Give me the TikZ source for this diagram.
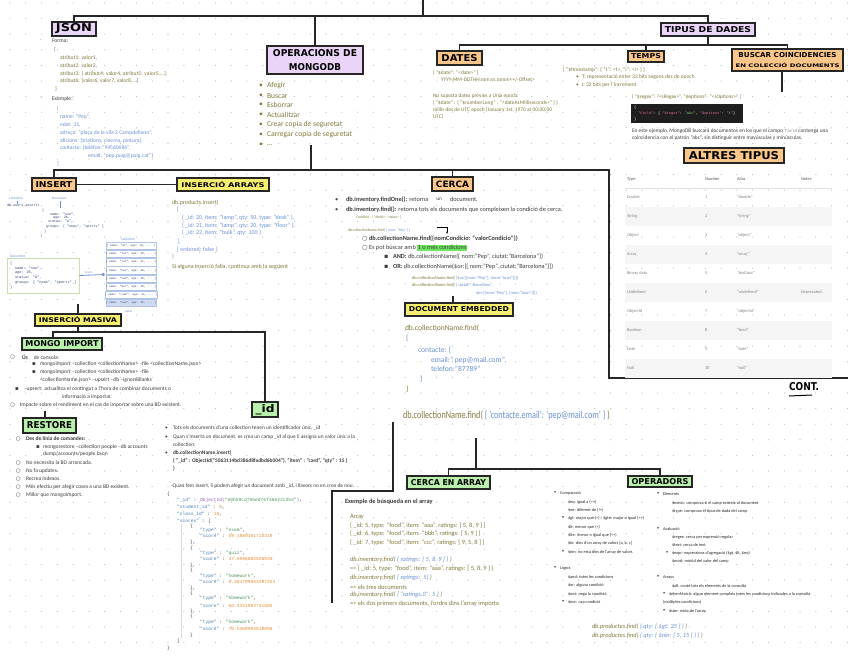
\documentclass[tikz,border=0pt]{standalone}
\usepackage{fontspec}
\usepackage{graphicx}
\setmainfont{Carlito}
\newfontfamily\hand{DejaVu Sans}
\newfontfamily\sym{DejaVu Sans}
\newfontfamily\mono{Liberation Mono}
\usetikzlibrary{arrows.meta}
\definecolor{olv}{RGB}{128,122,60}
\definecolor{blu}{RGB}{105,145,210}
\definecolor{dk}{RGB}{60,60,60}
\definecolor{gry}{RGB}{135,135,135}
\definecolor{nav}{RGB}{45,65,115}
\definecolor{purp}{RGB}{234,212,247}
\definecolor{orng}{RGB}{250,198,138}
\definecolor{yel}{RGB}{246,238,112}
\definecolor{grn}{RGB}{186,241,172}
\definecolor{dotc}{RGB}{190,190,190}
\definecolor{codebg}{RGB}{30,30,30}
\definecolor{pk}{RGB}{230,110,140}
\definecolor{gr2}{RGB}{150,200,110}
\definecolor{hl}{RGB}{110,230,95}
\definecolor{keyc}{RGB}{70,125,175}
\definecolor{strc}{RGB}{80,150,90}
\definecolor{numc}{RGB}{232,140,50}
\definecolor{objc}{RGB}{150,90,180}
\definecolor{docg}{RGB}{200,222,175}
\definecolor{colb}{RGB}{175,195,230}
\newcounter{tn}
\newcommand\fs[1]{\fontsize{#1pt}{#1pt}\selectfont}
\newcommand\tx[4][]{\stepcounter{tn}\node[tx,#1] (t\arabic{tn}) at (#2,#3) {#4};}
\newcommand\hd[3]{\resizebox{#1pt}{#2pt}{\hand\bfseries #3}}
\newcommand\cir{{\sym ○}}
\newcommand\sqb{{\sym ▪}}
\tikzset{
  tx/.style={anchor=west, inner sep=0pt, outer sep=0pt},
  fz/.style={font=\fontsize{#1pt}{#1pt}\selectfont},
  hb/.style={draw=black!85, line width=1.4pt, inner sep=0pt, align=center, font=\fontsize{1pt}{1pt}\selectfont},
  conn/.style={line width=1.3pt, draw=black!85},
}
\begin{document}
\begin{tikzpicture}[x=1pt,y=-1pt]
\useasboundingbox (0,0) rectangle (848,656);
\fill[white] (0,0) rectangle (848,656);
% dot grid
\foreach \i in {0,...,53} {\foreach \j in {0,...,41} {\fill[dotc] ({10+15.8*\i},{3+15.6*\j}) circle[radius=0.6pt];}}

% ---------------- heading boxes ----------------
\node[hb, fill=purp, minimum width=44, minimum height=14] (json) at (74,29) {\hd{36}{8}{JSON}};
\node[hb, fill=purp, minimum width=96, minimum height=28] (ops) at (315,60) {\hd{84}{7}{OPERACIONS DE}\\[5pt]\hd{52}{7}{MONGODB}};
\node[hb, fill=purp, minimum width=94, minimum height=13] (tipus) at (708,29.5) {\hd{86}{6}{TIPUS DE DADES}};
\node[hb, fill=orng, minimum width=45, minimum height=14] (dates) at (459.5,58) {\hd{36}{7}{DATES}};
\node[hb, fill=orng, minimum width=36, minimum height=11] (temps) at (646,56.5) {\hd{30}{5}{TEMPS}};
\node[hb, fill=orng, minimum width=111, minimum height=22] (buscar) at (787.5,60) {\hd{98}{5}{BUSCAR COINCIDENCIES}\\[5pt]\hd{104}{4.5}{EN COLECCIÓ DOCUMENTS}};
\node[hb, fill=orng, minimum width=100, minimum height=15] (altres) at (734,155.5) {\hd{90}{8}{ALTRES TIPUS}};
\node[hb, fill=orng, minimum width=44, minimum height=13] (insert) at (54,184.5) {\hd{37}{6}{INSERT}};
\node[hb, fill=yel, minimum width=92, minimum height=13] (arrays) at (223,184.5) {\hd{83}{6}{INSERCIÓ ARRAYS}};
\node[hb, fill=orng, minimum width=41, minimum height=14] (cerca) at (452.5,184) {\hd{33}{6.5}{CERCA}};
\node[hb, fill=yel, minimum width=86, minimum height=12] (masiva) at (78,320) {\hd{78}{6}{INSERCIÓ MASIVA}};
\node[hb, fill=grn, minimum width=80, minimum height=12] (mimport) at (62,344) {\hd{73}{6}{MONGO IMPORT}};
\node[hb, fill=grn, minimum width=53, minimum height=15] (restore) at (49.5,425.5) {\hd{45}{7}{RESTORE}};
\node[hb, fill=grn, minimum width=26, minimum height=15] (idb) at (265,409.5) {\hd{19}{8}{\_id}};
\node[hb, fill=yel, minimum width=108, minimum height=13] (embedded) at (459,309.5) {\hd{100}{5}{DOCUMENT EMBEDDED}};
\node[hb, fill=grn, minimum width=83, minimum height=13] (carray) at (448.5,482.5) {\hd{75}{6}{CERCA EN ARRAY}};
\node[hb, fill=grn, minimum width=64, minimum height=11] (opers) at (660,481.5) {\hd{57}{6}{OPERADORS}};

% ---------------- connectors ----------------
\coordinate (root) at (423,0);
\coordinate (r1) at (423,16);
\draw[conn] (root) -- (r1);
\draw[conn] (json.north) -- (json.north |- r1) -- (tipus.north |- r1) -- (tipus.north);
\draw[conn] (ops.north) -- (ops.north |- r1);
\coordinate (r2) at (708,45);
\draw[conn] (tipus.south) -- (r2);
\draw[conn] (dates.north) -- (dates.north |- r2) -- (buscar.north |- r2) -- (buscar.north);
\draw[conn] (temps.north) -- (temps.north |- r2);
\coordinate (bsend) at (782,92);
\draw[conn] (buscar.south -| bsend) -- (bsend);
\coordinate (opsend) at (311,145);
\coordinate (r3) at (311,170);
\coordinate (fr1) at (609,170);
\coordinate (fr2) at (609,378);
\coordinate (fr3) at (848,378);
\draw[conn] (opsend) -- (r3);
\draw[conn] (insert.north) -- (insert.north |- r3) -- (fr1) -- (fr2) -- (fr3);
\draw[conn] (cerca.north) -- (cerca.north |- r3);
\draw[conn] (insert.east) -- (arrays.west);
\coordinate (ms0) at (78,304);
\draw[conn] (ms0) -- (masiva.north);
\coordinate (r4) at (78,332);
\coordinate (mi) at (53,332);
\draw[conn] (masiva.south) -- (r4);
\draw[conn] (mi |- mimport.north) -- (mi) -- (idb.north |- mi) -- (idb.north);
\coordinate (rs0) at (45,411);
\draw[conn] (rs0) -- (rs0 |- restore.north);
\coordinate (b1) at (393,422);
\coordinate (b2) at (393,491);
\coordinate (b3) at (332,491);
\coordinate (b4) at (332,603);
\draw[conn] (b1) -- (b2) -- (b3) -- (b4);
\coordinate (em0) at (453,296);
\draw[conn] (em0) -- (em0 |- embedded.north);
\coordinate (e1) at (476,438);
\coordinate (r5) at (476,469);
\draw[conn] (e1) -- (r5);
\draw[conn] (carray.north) -- (carray.north |- r5) -- (opers.north |- r5) -- (opers.north);

% ---------------- JSON ----------------
\begin{scope}[tx/.append style={text=olv,fz=5.6}]
\tx[text=gry]{40}{41}{-}\tx[text=dk]{52}{41}{Forma:}
\tx{54}{50}{\{}
\tx{60}{58}{atribut1: valor1,}
\tx{60}{66}{atribut2: valor2,}
\tx{60}{74}{atribut3: \{ atribut4: valor4, atribut5: valor5....\},}
\tx{60}{81}{atribut6: [valor6, valor7, valor8,...]}
\tx{55}{89}{\}}
\tx[text=gry]{40}{99}{-}\tx[text=dk]{52}{99}{Exemple:}
\end{scope}
\begin{scope}[tx/.append style={text=blu,fz=5.6}]
\tx{57}{109}{\{}
\tx{60}{117}{name: "Pep",}
\tx{60}{125}{edat: 31,}
\tx{60}{133}{adreça: "plaça de la vila 2 Campdelleno",}
\tx{60}{141}{aficions: [triatlons, cinema, pintura],}
\tx{60}{148}{contacte: \{telèfon:"94560686",}
\tx{88}{156}{email: "pep.puig@puig.cat"\}}
\tx{57}{164}{\}}
\end{scope}

% ---------------- OPERACIONS list ----------------
\begin{scope}[tx/.append style={text=olv,fz=7.6}]
\tx{259}{86}{•}\tx{267}{86}{Afegir}
\tx{259}{96}{•}\tx{267}{96}{Buscar}
\tx{259}{105}{•}\tx{267}{105}{Esborrar}
\tx{259}{115}{•}\tx{267}{115}{Actualitzar}
\tx{259}{125}{•}\tx{267}{125}{Crear copia de seguretat}
\tx{259}{135}{•}\tx{267}{135}{Carregar copia de seguretat}
\tx{259}{145}{•}\tx{267}{145}{...}
\end{scope}

% ---------------- DATES ----------------
\begin{scope}[tx/.append style={text=olv,fz=5.4}]
\tx{433}{73}{\{ "\$date": "<date>" \}}
\tx{441}{80}{YYYY-MM-DDTHH:mm:ss.mmm<+/-Offset>}
\tx{433}{96}{No suporta dates prèvies a Unix epoch:}
\tx{433}{103}{\{ "\$date" : \{ "\$numberLong" : "<dateAsMilliseconds>" \} \}}
\tx{433}{110}{millis des de UTC epoch (January 1st, 1970 at 00:00:00}
\tx{433}{117}{UTC)}
\end{scope}

% ---------------- TEMPS ----------------
\begin{scope}[tx/.append style={text=olv,fz=5.5}]
\tx{563}{70}{\{ "\$timestamp": \{ "t": <t>, "i": <i> \} \}}
\tx{576}{77}{•}\tx{582}{77}{T: representació enter 32 bits segons des de epoch}
\tx{576}{85}{•}\tx{582}{85}{I: 32 bits per l'increment}
\end{scope}

% ---------------- BUSCAR ----------------
\tx[text=olv,fz=5.3]{632}{97}{\{ "\$regex": "<sRegex>", "\$options": "<sOptions>" \}}
\node[fill=codebg, minimum width=112, minimum height=19, inner sep=0pt] (code) at (687,113.5) {};
\tx[text=white,fz=3.6]{634}{108}{\mono\{}
\tx[fz=3.6]{638}{114}{\mono\textcolor{pk}{"field"}\textcolor{white}{: \{ }\textcolor{pk}{"\$regex"}\textcolor{white}{: }\textcolor{gr2}{"abc"}\textcolor{white}{, }\textcolor{pk}{"\$options"}\textcolor{white}{: }\textcolor{gr2}{"i"}\textcolor{white}{ \}}}
\tx[text=white,fz=3.6]{634}{120}{\mono\}}
\tx[text=dk,fz=5.4]{632}{131}{En este ejemplo, MongoDB buscará documentos en los que el campo {\mono\fs{4.3}\textcolor{gry}{field}} contenga una}
\tx[text=dk,fz=5.4]{632}{138}{coincidencia con el patrón "abc", sin distinguir entre mayúsculas y minúsculas.}

% ---------------- ALTRES TIPUS table ----------------
\foreach \yy in {216,254,292,330,368} {\fill[black!4] (625,\yy-9.5) rectangle (832,\yy+9.5);}
\draw[black!12, line width=0.4pt] (625,188) -- (832,188);
\begin{scope}[tx/.append style={text=gry,fz=4.4}]
\tx[text=black!65]{627}{179}{Type}\tx[text=black!65]{705}{179}{Number}\tx[text=black!65]{737}{179}{Alias}\tx[text=black!65]{801}{179}{Notes}
\tx{627}{197}{Double}\tx{705}{197}{1}\tx{737}{197}{"double"}
\tx{627}{216}{String}\tx{705}{216}{2}\tx{737}{216}{"string"}
\tx{627}{235}{Object}\tx{705}{235}{3}\tx{737}{235}{"object"}
\tx{627}{254}{Array}\tx{705}{254}{4}\tx{737}{254}{"array"}
\tx{627}{273}{Binary data}\tx{705}{273}{5}\tx{737}{273}{"binData"}
\tx{627}{292}{Undefined}\tx{705}{292}{6}\tx{737}{292}{"undefined"}\tx{801}{292}{Deprecated.}
\tx{627}{311}{ObjectId}\tx{705}{311}{7}\tx{737}{311}{"objectId"}
\tx{627}{330}{Boolean}\tx{705}{330}{8}\tx{737}{330}{"bool"}
\tx{627}{349}{Date}\tx{705}{349}{9}\tx{737}{349}{"date"}
\tx{627}{368}{Null}\tx{705}{368}{10}\tx{737}{368}{"null"}
\end{scope}
\node[inner sep=0pt] (cont) at (804,387) {\hd{30}{8}{CONT.}};
\coordinate (cu1) at (789,396);
\coordinate (cu2) at (812,395);
\draw[line width=1pt] (cu1) -- (cu2);

% ---------------- INSERT diagram ----------------
\begin{scope}[tx/.append style={text=nav,fz=3.4}]
\tx[text=blu]{9}{198}{Collection}
\tx[text=blu]{52}{198}{Document}
\tx{7}{206}{\mono db.users.insert(}
\tx{42}{211}{\mono\{}
\tx{50}{215}{\mono name: "sue",}
\tx{53}{218}{\mono age: 26,}
\tx{48}{222}{\mono status: "A",}
\tx{46}{227}{\mono groups: [ "news", "sports" ]}
\tx{44}{232}{\mono\}}
\tx{40}{236}{\mono)}
\end{scope}
\coordinate (ca1) at (17,201); \coordinate (ca2) at (17,204);
\coordinate (cb1) at (60,201); \coordinate (cb2) at (60,208);
\draw[blu, line width=0.4pt] (ca1) -- (ca2) (cb1) -- (cb2);
\node[draw=docg, line width=0.8pt, minimum width=72, minimum height=35, inner sep=0pt] (docbox) at (43,275.5) {};
\begin{scope}[tx/.append style={text=nav,fz=3.6}]
\tx[text=blu]{10}{256}{Document}
\tx{10}{264}{\mono\{}
\tx{15}{269}{\mono name: "sue",}
\tx{15}{273}{\mono age: 26,}
\tx{15}{278}{\mono status: "A",}
\tx{15}{283}{\mono groups: [ "news", "sports" ]}
\tx{10}{288}{\mono\}}
\end{scope}
\node[minimum width=52, minimum height=65, inner sep=0pt] (coll) at (131,274.5) {};
\foreach \k/\nm/\ag in {0/al/18,1/lee/28,2/jan/21,3/kai/38,4/sam/18,5/mel/38,6/ryan/31,7/sue/26} {
  \ifnum\k=7 \def\fc{colb!60}\else\def\fc{white}\fi
  \node[draw=colb, fill=\fc, line width=0.5pt, minimum width=50, minimum height=7.2, inner sep=0pt, font=\mono\fontsize{2.8pt}{2.8pt}\selectfont, text=nav] (row\k) at (131,{246+8.1*\k}) {\{ name: "\nm", age: \ag, ... \}};
}
\tx[text=blu,fz=3.4]{121}{239}{Collection}
\tx[text=blu,fz=3.4]{125}{312}{users}
\draw[blu, line width=0.8pt, -{Circle[length=3pt]}] (docbox.east) -- (coll.west);
\tx[text=blu,fz=3]{85}{272}{insert}

% ---------------- INSERCIÓ ARRAYS ----------------
\begin{scope}[tx/.append style={text=blu,fz=6}]
\tx[text=olv]{172}{203}{db.products.insert(}
\tx{177}{210}{[}
\tx{182}{218}{\{ \_id: 20, item: "lamp", qty: 50, type: "desk" \},}
\tx{182}{226}{\{ \_id: 21, item: "lamp", qty: 20, type: "floor" \},}
\tx{182}{233}{\{ \_id: 22, item: "bulk", qty: 100 \}}
\tx{177}{242}{],}
\tx{177}{250}{\{ ordered: false \}}
\tx{172}{257}{)}
\tx[text=olv]{172}{267}{Si alguna inserció falla, continua amb la següent}
\end{scope}

% ---------------- CERCA ----------------
\begin{scope}[tx/.append style={text=dk,fz=6.3}]
\tx{335}{200}{•}\tx{346}{200}{\textbf{db.inventory.findOne():} retorna\hspace{8pt}{\hand\fs{4.5}\raisebox{1.5pt}{un}}\hspace{8pt}document.}
\tx{335}{210}{•}\tx{346}{210}{\textbf{db.inventory.find():} retorna tots els documents que compleixen la condició de cerca.}
\tx[text=olv,fz=3.8]{356}{217}{Condició : \{ <field>: <value> \}}
\tx[text=olv,fz=3.8]{348}{230}{db.collectionName.find( \textcolor{blu}{\{ nom: "Pep" \}} )}
\tx{362}{239}{\cir}\tx{369}{239}{\textbf{db.collectionName.find(\{nomCondicio: "valorCondicio"\})}}
\tx{362}{248}{\cir}\tx{369}{248}{Es pot búscar amb {\setlength\fboxsep{0.6pt}\colorbox{hl}{1 o més condicions}}}
\tx{384}{257}{\sqb}\tx{393}{257}{\textbf{AND:} db.collectionName(\{ nom:"Pep", ciutat:"Barcelona"\})}
\tx{384}{267}{\sqb}\tx{393}{267}{\textbf{OR:} db.collectionName(\$or:[\{ nom:"Pep", ciutat:"Barcelona"\}])}
\tx[text=olv,fz=4.4]{412}{278}{db.collectionName.find( \textcolor{blu}{\{\$or:[\{nom:"Pep"\}, \{nom:"Juan"\}]\})}}
\tx[text=olv,fz=4.4]{412}{285}{db.collectionName.find( \textcolor{blu}{\{ ciutat:" Barcelona",}}
\tx[text=blu,fz=4.4]{476}{293}{\$or:[\{nom:"Pep"\}, \{nom:"Juan"\}]\})}
\end{scope}
\coordinate (hk1) at (437,227);
\coordinate (hk2) at (447,227);
\coordinate (hk3) at (447,234);
\draw[line width=0.8pt, -{Stealth[length=2.5pt]}] (hk1) -- (hk2) -- (hk3);

% ---------------- DOCUMENT EMBEDDED ----------------
\begin{scope}[tx/.append style={text=blu,fz=7.6}]
\tx[text=olv]{405}{328}{db.collectionName.find(}
\tx{406}{338}{\{}
\tx{418}{350}{contacte: \{}
\tx{431}{360}{email:" pep@mail.com",}
\tx{431}{369}{telefon:"87789"}
\tx{420}{379}{\}}
\tx[text=olv]{406}{389}{\}}
\end{scope}
\tx[text=olv,fz=10.5]{403}{415}{\scalebox{0.78}[1]{db.collectionName.find( \textcolor{blu}{\{ 'contacte.email': 'pep@mail.com' \}} )}}

% ---------------- MONGO IMPORT ----------------
\begin{scope}[tx/.append style={text=dk,fz=5.5}]
\tx{10}{357}{\cir}\tx{22}{357}{\textbf{Ús}\hspace{6pt}de consola:}
\tx{32}{364}{\sqb}\tx{40}{364}{mongoimport --collection <collectionName> --file <collectionName.json>}
\tx{32}{372}{\sqb}\tx{40}{372}{mongoimport --collection <collectionName> --file}
\tx{40}{380}{<collectionName.json> --upsert --db --ignoreBlanks}
\tx{15}{389}{\sqb}\tx{24}{389}{--upsert: actualitza el contingut a l'hora de combinar documents o}
\tx{62}{397}{informació a importar.}
\tx{10}{405}{\cir}\tx{20}{405}{Impacte sobre el rendiment en el cas de importar sobre una BD existent.}
\end{scope}

% ---------------- RESTORE ----------------
\begin{scope}[tx/.append style={text=dk,fz=5.5}]
\tx{16}{439}{\cir}\tx{26}{439}{\textbf{Des de línia de comandes:}}
\tx{36}{447}{\sqb}\tx{43}{447}{mongorestore --collection people --db accounts}
\tx{43}{454}{dump/accounts/people.bson}
\tx{16}{463}{\cir}\tx{26}{463}{No necessita la BD arrancada.}
\tx{16}{471}{\cir}\tx{26}{471}{No fa updates.}
\tx{16}{479}{\cir}\tx{26}{479}{Recrea índexos.}
\tx{16}{487}{\cir}\tx{26}{487}{Més efectiu per afegir coses a una BD existent.}
\tx{16}{495}{\cir}\tx{26}{495}{Millor que mongoimport.}
\end{scope}

% ---------------- _id ----------------
\begin{scope}[tx/.append style={text=dk,fz=5.4}]
\tx{165}{428}{•}\tx{173}{428}{Tots els documents d'una collection tenen un identificador únic, \_id}
\tx{165}{437}{•}\tx{173}{437}{Quan s'inserta un document, es crea un camp \_id al que li assigna un valor únic a la}
\tx{173}{445}{collection.}
\tx{165}{453}{•}\tx{173}{453}{\textbf{db.collectionName.insert(}}
\tx{173}{461}{\textbf{\{ "\_id" : ObjectId("5063114bd386d8fadbd6b004"), "item" : "card", "qty" : 15 \}}}
\tx{173}{469}{\textbf{)}}
\tx{171}{486}{-Quan fem insert, li podem afegir un document amb \_id, i llavors no en crea de nou.}
\end{scope}
\coordinate (g1) at (181,524); \coordinate (g2) at (181,638);
\draw[black!15, line width=0.4pt] (g1) -- (g2);
\begin{scope}[tx/.append style={text=dk,fz=4.6}]
\tx{167}{494}{\mono\{}
\tx{177}{500}{\mono\textcolor{keyc}{"\_id"} : \textcolor{objc}{ObjectId(}\textcolor{strc}{"50b59cd75bed76f46522c353"}\textcolor{objc}{)},}
\tx{177}{507}{\mono\textcolor{keyc}{"student\_id"} : \textcolor{numc}{0},}
\tx{177}{514}{\mono\textcolor{keyc}{"class\_id"} : \textcolor{numc}{16},}
\tx{177}{521}{\mono\textcolor{keyc}{"scores"} : [}
\tx{190}{526}{\mono\{}
\tx{200}{530}{\mono\textcolor{keyc}{"type"} : \textcolor{strc}{"exam"},}
\tx{200}{536}{\mono\textcolor{keyc}{"score"} : \textcolor{numc}{59.1889161715319}}
\tx{190}{542}{\mono\},}
\tx{190}{548}{\mono\{}
\tx{200}{553}{\mono\textcolor{keyc}{"type"} : \textcolor{strc}{"quiz"},}
\tx{200}{559}{\mono\textcolor{keyc}{"score"} : \textcolor{numc}{47.5096082826939}}
\tx{190}{565}{\mono\},}
\tx{190}{570}{\mono\{}
\tx{200}{576}{\mono\textcolor{keyc}{"type"} : \textcolor{strc}{"homework"},}
\tx{200}{582}{\mono\textcolor{keyc}{"score"} : \textcolor{numc}{6.404789053387254}}
\tx{190}{588}{\mono\},}
\tx{190}{593}{\mono\{}
\tx{200}{598}{\mono\textcolor{keyc}{"type"} : \textcolor{strc}{"homework"},}
\tx{200}{606}{\mono\textcolor{keyc}{"score"} : \textcolor{numc}{60.3351962741685}}
\tx{190}{611}{\mono\},}
\tx{190}{616}{\mono\{}
\tx{200}{622}{\mono\textcolor{keyc}{"type"} : \textcolor{strc}{"homework"},}
\tx{200}{629}{\mono\textcolor{keyc}{"score"} : \textcolor{numc}{70.5306093818096}}
\tx{190}{635}{\mono\}}
\tx{177}{641}{\mono]}
\tx{167}{648}{\mono\}}
\end{scope}

% ---------------- CERCA EN ARRAY ----------------
\begin{scope}[tx/.append style={text=olv,fz=6.4}]
\tx[text=dk]{345}{502}{\textbf{Exemple de búsqueda en el array}}
\tx{350}{517}{Array}
\tx{350}{526}{\{ \_id: 5, type: "food", item: "aaa", ratings: [ 5, 8, 9 ] \}}
\tx{350}{534}{\{ \_id: 6, type: "food", item: "bbb", ratings: [ 5, 9 ] \}}
\tx{350}{543}{\{ \_id: 7, type: "food", item: "ccc", ratings: [ 9, 5, 8 ] \}}
\tx{350}{560}{\itshape db.inventory.find( \textcolor{blu}{\{ ratings: [ 5, 8, 9 ] \}} )}
\tx{350}{569}{=> \{ \_id: 5, type: "food", item: "aaa", ratings: [ 5, 8, 9 ] \}}
\tx{350}{578}{\itshape db.inventory.find( \textcolor{blu}{\{ ratings:\ \ 5\}} )}
\tx{350}{587}{=> els tres documents}
\tx{350}{595}{\itshape db.inventory.find( \textcolor{blu}{\{ "ratings.0": 5 \}} )}
\tx{350}{604}{=> els dos primers documents, l'ordre dins l'array importa}
\end{scope}

% ---------------- OPERADORS ----------------
\begin{scope}[tx/.append style={text=black!85,fz=4.3}]
\tx{554}{493}{•}\tx{560}{493}{Comparació}
\tx{568}{502}{\$eq: igual a (==)}
\tx{568}{510}{\$ne: diferent de (!=)}
\tx{562}{518}{•}\tx{568}{518}{\$gt: major que (>) / \$gte: major o igual (>=)}
\tx{568}{527}{\$lt: menor que (<)}
\tx{568}{535}{\$lte: menor o igual que (<=)}
\tx{568}{543}{\$in: dins d'un array de valors [a, b, c]}
\tx{562}{552}{•}\tx{568}{552}{\$nin: no està dins de l'array de valors}
\tx{554}{568}{•}\tx{560}{568}{Lògics}
\tx{568}{577}{\$and: totes les condicions}
\tx{568}{585}{\$or: alguna condició}
\tx{568}{594}{\$not: nega la condició}
\tx{562}{602}{•}\tx{568}{602}{\$nor: cap condició}
\tx{657}{494}{•}\tx{663}{494}{Elements}
\tx{672}{503}{\$exists: comprova si el camp existeix al document}
\tx{672}{511}{\$type: comprova el tipus de dada del camp}
\tx{657}{529}{•}\tx{663}{529}{Avaluació}
\tx{672}{537}{\$regex: cerca per expressió regular}
\tx{672}{545}{\$text: cerca de text}
\tx{666}{553}{•}\tx{672}{553}{\$expr: expressions d'agregació (\$gt, \$lt, \$eq)}
\tx{672}{561}{\$mod: mòdul del valor del camp}
\tx{657}{577}{•}\tx{663}{577}{Arrays}
\tx{672}{586}{\$all: conté tots els elements de la consulta}
\tx{663}{594}{•}\tx{669}{594}{\$elemMatch: algun element compleix totes les condicions indicades a la consulta}
\tx{663}{602}{(múltiples condicions)}
\tx{663}{611}{•}\tx{669}{611}{\$size: mida de l'array}
\end{scope}
\tx[text=olv,fz=6.3]{592}{627}{\itshape db.productes.find( \textcolor{blu}{\{ qty: \{ \$gt: 25 \} \}} )}
\tx[text=olv,fz=6.3]{592}{636}{\itshape db.productes.find( \textcolor{blu}{\{ qty: \{ \$nin: [ 5, 15 ] \} \}} )}
\end{tikzpicture}
\end{document}
